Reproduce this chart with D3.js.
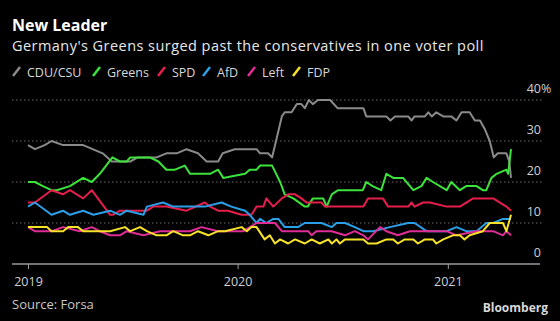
<!DOCTYPE html>
<html>
<head>
<meta charset="utf-8">
<script src="https://cdn.jsdelivr.net/npm/d3@7"></script>
<style>
  body { margin: 0; background: #000; }
  text { font-family: "Open Sans", sans-serif; }
</style>
</head>
<body>
<div id="chart"></div>
<script>
// Forsa poll readings, [date, percent]
const parties = ["CDU/CSU", "Greens", "SPD", "AfD", "Left", "FDP"];
const colors = ["#8a8a8a", "#3be33b", "#e61e4b", "#2b9fe8", "#e02c96", "#f7e22a"];

const cdu = [["2019-01-01",29],["2019-01-13",28],["2019-01-30",29],["2019-02-11",30],["2019-03-03",29],["2019-04-07",29],
  ["2019-05-11",27],["2019-05-27",25],["2019-06-28",25],["2019-07-11",26],["2019-08-13",26],["2019-08-30",27],["2019-09-17",27],
  ["2019-10-04",28],["2019-10-24",27],["2019-11-08",25],["2019-11-28",25],["2019-12-06",27],["2019-12-27",28],["2020-02-03",28],
  ["2020-02-09",27],["2020-02-23",27],["2020-03-01",26],["2020-03-18",36],["2020-03-23",37],["2020-04-04",37],["2020-04-13",39],
  ["2020-04-21",39],["2020-04-27",38],["2020-05-04",40],["2020-05-11",39],["2020-05-20",40],["2020-06-10",40],["2020-06-23",38],
  ["2020-08-07",38],["2020-08-12",36],["2020-09-16",36],["2020-09-23",35],["2020-10-01",36],["2020-10-24",36],["2020-10-30",35],
  ["2020-11-04",36],["2020-11-22",36],["2020-11-28",37],["2020-12-04",36],["2020-12-12",37],["2020-12-24",36],["2021-01-07",36],
  ["2021-01-16",35],["2021-01-25",37],["2021-02-08",37],["2021-02-17",35],["2021-02-26",35],["2021-03-06",33],["2021-03-15",30],
  ["2021-03-22",26],["2021-03-29",27],["2021-04-13",27],["2021-04-18",25],["2021-04-21",21]];

const greens = [["2019-01-01",20],["2019-01-13",20],["2019-01-27",19],["2019-02-11",18],["2019-02-20",18],["2019-03-15",19],
  ["2019-04-07",21],["2019-04-22",20],["2019-05-06",22],["2019-05-28",26],["2019-06-10",25],["2019-06-22",25],["2019-06-28",26],
  ["2019-08-01",26],["2019-08-16",25],["2019-08-30",23],["2019-09-14",23],["2019-10-01",24],["2019-10-10",22],["2019-11-14",22],
  ["2019-11-28",23],["2019-12-07",21],["2020-01-14",22],["2020-01-22",23],["2020-02-03",23],["2020-02-09",24],["2020-03-01",24],
  ["2020-03-15",20],["2020-03-23",17],["2020-04-07",16],["2020-04-27",14],["2020-05-02",14],["2020-05-11",16],["2020-05-29",16],
  ["2020-06-04",14],["2020-06-13",17],["2020-06-24",18],["2020-08-06",18],["2020-08-12",20],["2020-08-23",19],["2020-09-07",18],
  ["2020-09-16",22],["2020-09-28",21],["2020-10-15",21],["2020-10-27",19],["2020-11-02",18],["2020-11-16",19],["2020-11-25",21],
  ["2020-12-06",20],["2020-12-30",18],["2021-01-07",20],["2021-01-22",18],["2021-02-02",19],["2021-02-20",19],["2021-03-03",18],
  ["2021-03-09",18],["2021-03-18",21],["2021-03-27",22],["2021-04-13",23],["2021-04-16",22],["2021-04-21",28]];

const spd = [["2019-01-01",15],["2019-01-13",15],["2019-02-11",18],["2019-03-03",17],["2019-03-15",18],["2019-04-07",16],
  ["2019-04-22",18],["2019-05-24",12],["2019-05-29",12],["2019-06-10",13],["2019-07-27",13],["2019-08-07",14],["2019-08-30",14],
  ["2019-10-04",13],["2019-11-05",15],["2019-11-14",14],["2019-11-28",13],["2019-12-15",13],["2020-01-08",12],["2020-01-25",12],
  ["2020-02-03",14],["2020-02-15",14],["2020-02-20",16],["2020-03-03",14],["2020-03-18",16],["2020-03-29",17],["2020-04-10",17],
  ["2020-04-21",16],["2020-04-30",15],["2020-05-26",15],["2020-06-01",14],["2020-08-07",14],["2020-08-15",16],["2020-09-10",16],
  ["2020-09-19",14],["2020-10-24",14],["2020-10-30",15],["2020-11-04",14],["2020-11-19",15],["2020-12-01",15],["2020-12-30",14],
  ["2021-01-22",14],["2021-02-14",16],["2021-03-21",16],["2021-04-13",14],["2021-04-21",13]];

const afd = [["2019-01-01",14],["2019-01-13",15],["2019-02-11",12],["2019-03-03",13],["2019-03-15",12],["2019-04-07",13],
  ["2019-04-25",12],["2019-05-24",13],["2019-06-10",12],["2019-06-22",13],["2019-07-21",12],["2019-07-27",14],["2019-08-24",15],
  ["2019-09-11",14],["2019-11-05",14],["2019-12-04",15],["2019-12-21",14],["2020-01-14",13],["2020-01-22",12],["2020-02-03",10],
  ["2020-02-09",11],["2020-02-20",10],["2020-03-03",11],["2020-03-12",11],["2020-03-23",9],["2020-04-04",9],["2020-04-15",9],
  ["2020-04-27",10],["2020-05-09",10],["2020-05-26",10],["2020-06-13",9],["2020-06-21",10],["2020-07-06",10],["2020-07-23",9],
  ["2020-08-07",8],["2020-08-24",8],["2020-09-22",9],["2020-10-24",10],["2020-11-04",10],["2020-11-25",8],["2020-12-06",8],
  ["2020-12-30",8],["2021-01-16",9],["2021-02-02",8],["2021-02-20",8],["2021-03-09",10],["2021-03-21",10],["2021-04-07",11],
  ["2021-04-21",11]];

const left = [["2019-01-01",9],["2019-01-13",8],["2019-02-11",8],["2019-03-03",9],["2019-04-01",8],["2019-04-22",9],
  ["2019-05-06",8],["2019-05-24",7],["2019-06-10",7],["2019-06-22",8],["2019-07-21",7],["2019-08-19",8],["2019-10-10",8],
  ["2019-10-30",9],["2019-11-28",8],["2020-01-11",8],["2020-02-03",10],["2020-03-06",10],["2020-03-18",8],["2020-05-03",8],
  ["2020-05-09",7],["2020-05-17",8],["2020-06-13",8],["2020-07-06",7],["2020-07-23",8],["2020-08-07",7],["2020-08-15",6],
  ["2020-09-05",9],["2020-09-16",8],["2020-10-06",7],["2020-10-27",8],["2020-11-25",8],["2020-12-30",8],["2021-01-16",7],
  ["2021-02-20",8],["2021-03-21",8],["2021-04-07",7],["2021-04-13",8],["2021-04-21",7]];

const fdp = [["2019-01-01",9],["2019-02-03",9],["2019-02-11",8],["2019-03-03",8],["2019-03-12",9],["2019-03-29",9],
  ["2019-04-07",8],["2019-05-24",8],["2019-06-19",9],["2019-06-28",8],["2019-07-15",9],["2019-07-27",8],["2019-08-13",7],
  ["2019-08-30",7],["2019-09-11",8],["2019-09-28",7],["2019-10-10",7],["2019-10-24",8],["2019-11-11",7],["2019-11-28",8],
  ["2019-12-10",8],["2020-01-08",9],["2020-01-17",8],["2020-01-25",9],["2020-02-03",9],["2020-02-17",6],["2020-02-26",7],
  ["2020-03-06",5],["2020-03-15",6],["2020-03-29",5],["2020-04-10",6],["2020-04-27",5],["2020-05-09",6],["2020-05-23",5],
  ["2020-06-07",6],["2020-06-13",5],["2020-06-21",6],["2020-06-27",5],["2020-07-06",6],["2020-08-07",6],["2020-08-15",5],
  ["2020-08-30",5],["2020-09-16",6],["2020-09-28",6],["2020-10-06",5],["2020-10-18",6],["2020-11-02",6],["2020-11-10",5],
  ["2020-11-22",6],["2020-12-06",6],["2020-12-12",5],["2020-12-24",6],["2021-01-10",7],["2021-01-22",7],["2021-01-30",6],
  ["2021-02-08",7],["2021-03-03",8],["2021-03-15",10],["2021-03-27",10],["2021-04-07",10],["2021-04-13",8],["2021-04-21",12]];

const series = [cdu, greens, spd, afd, left, fdp];
const yTicks = [0, 10, 20, 30, 40];
const xTicks = ["2019-01-01", "2020-01-01", "2021-01-01"];

const width = 560;
const height = 321;
const parse = d3.timeParse("%Y-%m-%d");

const svg = d3.select("#chart")
      .append("svg")
      .attr("width", width)
      .attr("height", height)
      .style("background", "#000");

const x = d3.scaleTime()
      .domain([parse("2019-01-01"), parse("2021-04-21")])
      .range([28, 511]);
const y = d3.scaleLinear()
      .domain([0, 40])
      .range([264, 100]);

// titles
svg.append("text").attr("x", 12).attr("y", 30.5)
    .attr("fill", "#fff").attr("font-size", 16).attr("font-weight", 700)
    .text("New Leader");
svg.append("text").attr("x", 12).attr("y", 51)
    .attr("fill", "#e8e8e8").attr("font-size", 14.5)
    .attr("letter-spacing", 0.45)
    .text("Germany's Greens surged past the conservatives in one voter poll");

// legend
const legendX = [12, 92, 157, 202, 247, 292];
const legend = svg.append("g").selectAll("g")
    .data(parties)
    .enter().append("g")
    .attr("transform", (d, i) => `translate(${legendX[i]},72)`);
legend.append("line")
    .attr("x1", 1).attr("y1", 4).attr("x2", 8).attr("y2", -5)
    .attr("stroke", (d, i) => colors[i]).attr("stroke-width", 2.5);
legend.append("text")
    .attr("x", 15).attr("y", 4.5)
    .attr("fill", "#d8d8d8").attr("font-size", 12.5)
    .text(d => d);

// grid + y labels
const grid = svg.append("g");
grid.selectAll("line")
    .data(yTicks.slice(1))
    .enter().append("line")
    .attr("x1", 12).attr("x2", 543)
    .attr("y1", d => y(d)).attr("y2", d => y(d))
    .attr("stroke", "#6a6a6a").attr("stroke-width", 1)
    .attr("stroke-dasharray", "1.5,2.5");
grid.selectAll("text")
    .data(yTicks)
    .enter().append("text")
    .attr("x", 541).attr("y", d => y(d) - 7)
    .attr("text-anchor", "end")
    .attr("fill", "#d0d0d0").attr("font-size", 12.5)
    .text(d => d);
svg.append("text").attr("x", 541).attr("y", y(40) - 7)
    .attr("fill", "#d0d0d0").attr("font-size", 12.5).text("%");

// x axis
const xAxis = svg.append("g")
    .attr("transform", `translate(0,${y(0)})`)
    .call(d3.axisBottom(x)
          .tickValues(xTicks.map(parse))
          .tickFormat(d3.timeFormat("%Y"))
          .tickSize(5)
          .tickPadding(8));
xAxis.select(".domain").remove();
xAxis.selectAll(".tick line").attr("stroke", "#9a9a9a");
xAxis.selectAll(".tick text")
    .attr("fill", "#d0d0d0").attr("font-size", 12.5)
    .attr("font-family", "Open Sans, sans-serif");
svg.append("line")
    .attr("x1", 12).attr("x2", 540)
    .attr("y1", y(0)).attr("y2", y(0))
    .attr("stroke", "#9a9a9a").attr("stroke-width", 1.5);

// lines
const line = d3.line()
    .x(d => x(parse(d[0])))
    .y(d => y(d[1]));

svg.append("g").selectAll("path")
    .data(series)
    .enter().append("path")
    .attr("d", line)
    .attr("fill", "none")
    .attr("stroke", (d, i) => colors[i])
    .attr("stroke-width", 2)
    .attr("stroke-linejoin", "round");

// footer
svg.append("text").attr("x", 12).attr("y", 309)
    .attr("fill", "#c8c8c8").attr("font-size", 13)
    .text("Source: Forsa");
svg.append("text").attr("x", 548).attr("y", 312)
    .attr("text-anchor", "end")
    .attr("fill", "#d8d8d8").attr("font-size", 12).attr("font-weight", 700)
    .text("Bloomberg");
</script>
</body>
</html>
